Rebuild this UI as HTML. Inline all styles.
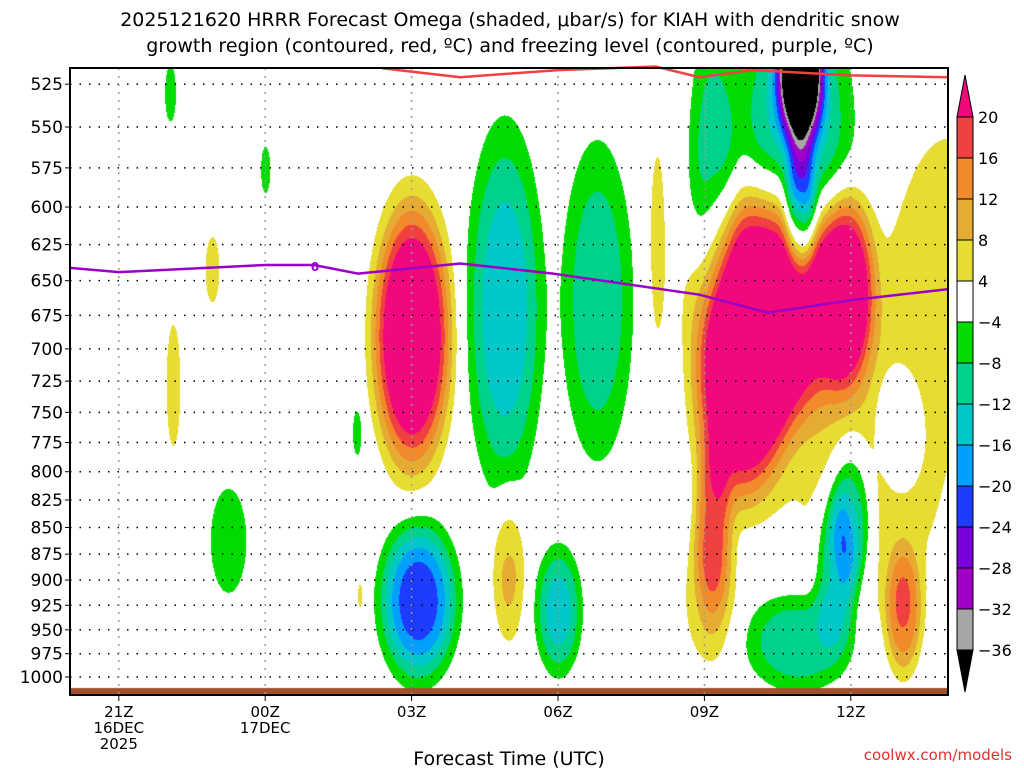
<!DOCTYPE html>
<html><head><meta charset="utf-8"><style>
body{margin:0;background:#fff;width:1024px;height:768px;overflow:hidden;font-family:"DejaVu Sans","Liberation Sans",sans-serif}
#wrap{position:relative;width:1024px;height:768px}
canvas{position:absolute;left:0;top:0}
svg{position:absolute;left:0;top:0}
</style></head><body><div id="wrap">
<canvas id="cv" width="1024" height="768"></canvas>
<svg id="sv" width="1024" height="768"></svg>
</div>
<script>
// ---- data ----
const levels=[525,550,575,600,625,650,675,700,725,750,775,800,825,850,875,900,925,950,975,1000];
const timeTicksH=[1,4,7,10,13,16];
const timeTickLabels=[["21Z","16DEC","2025"],["00Z","17DEC"],["03Z"],["06Z"],["09Z"],["12Z"]];
// omega features: hour since 20Z, pressure hPa, amplitude (microbar/s), width (h), height (px)
const featHour=[7.0, 7.13,8.9, 10.8,10.0,8.98,14.34,15.88,13.73,13.16,16.4,13.1,14.96,14.86,13.15,12.03,18.0,16.0,15.68,14.96,17.0,17.07,2.05,4.0, 2.91,2.11,3.24,5.88,5.94,14.96];
const featP=   [690, 920, 670, 664, 930, 890, 664,  655,  740,  852,  781, 920, 517,  552,  576,  622,  629, 843, 885,  961,  760, 930,  530, 576, 642, 728, 862, 766, 915, 600];
const featAmp= [32,  -23, -15, -11, -14, 9,   35,   25,   26,   14,   6,   6,   -45,  -14,  -10,  6,    6,   -15, -13,  -12,  -10, 14,   -6,  -6,  6,   6,   -7,  -6,  5,   -18];
const featSx=  [0.6, 0.6, 0.6, 0.58,0.37,0.28,1.1,  0.45, 0.7,  0.3,  1.6, 0.5, 0.35, 0.9,  0.4,  0.15, 1.0, 0.35,0.35, 0.9,  0.35,0.29, 0.12,0.1, 0.15,0.15,0.35,0.1, 0.07,0.25];
const featSy=  [100, 60,  140, 127, 50,  60,  90,   75,   80,   70,   150, 60,  55,   110,  120,  90,   120, 60,  60,   40,   45,  50,   30,  25,  35,  65,  50,  25,  18,  55];
const colorLevels=[-36,-32,-28,-24,-20,-16,-12,-8,-4,4,8,12,16,20];
const colors=["#000000","#a6a6a6","#a000c8","#7800dc","#1e3cff","#00a0ff","#00c8c8","#00d28c","#00dc00","#ffffff","#e6dc32","#e6ab32","#f08a2a","#f04040","#f0087c"];
const fzHour=[0,1,4,5,5.9,8,9.9,12.9,14.3,16,18];
const fzP=[641,644,639,639,645,638,645,660,673,664,656];
const dgHour=[6.4,8,10,12,12.9,14,16,18];
const dgP=[516,521,517,515,521,517,520,521];
const cbLabels=[20,16,12,8,4,-4,-8,-12,-16,-20,-24,-28,-32,-36];
// ---- axes ----
const X0=70,X1=948,Y0=68,Y1=695;
const xOf=h=>X0+h*48.8;
const yOf=p=>677+920*Math.log(p/1000);
// ---- shading ----
const cv=document.getElementById('cv'),ctx=cv.getContext('2d');
const W=X1-X0,H=Y1-Y0,img=ctx.createImageData(W,H);
const rgb=colors.map(c=>[parseInt(c.substr(1,2),16),parseInt(c.substr(3,2),16),parseInt(c.substr(5,2),16)]);
const fx=featHour.map(xOf),fy=featP.map(yOf);
for(let j=0;j<H;j++){for(let i=0;i<W;i++){
 const x=X0+i,y=Y0+j;let v=0;
 for(let k=0;k<fx.length;k++){const dx=(x-fx[k])/(featSx[k]*48.8),dy=(y-fy[k])/featSy[k];const r=Math.sqrt(dx*dx+dy*dy);if(r<4)v+=featAmp[k]*Math.exp(-0.5*r*r*r);}
 let c=0;while(c<colorLevels.length&&v>colorLevels[c])c++;
 const o=(j*W+i)*4;img.data[o]=rgb[c][0];img.data[o+1]=rgb[c][1];img.data[o+2]=rgb[c][2];img.data[o+3]=255;}}
ctx.putImageData(img,X0,Y0);
ctx.fillStyle="#a0522d";ctx.fillRect(X0,688,W,7);
// ---- svg overlay ----
const sv=document.getElementById('sv');const NS="http://www.w3.org/2000/svg";
function el(t,a,txt){const e=document.createElementNS(NS,t);for(const k in a)e.setAttribute(k,a[k]);if(txt!==undefined)e.textContent=txt;sv.appendChild(e);return e;}
levels.forEach(p=>{const y=yOf(p);
 let g=el('line',{x1:X0,x2:X1,y1:y,y2:y,stroke:"#000","stroke-width":1.5,"stroke-dasharray":"1.5,8"});
 
 el('line',{x1:X0-5,x2:X0,y1:y,y2:y,stroke:"#000"});
 let t=el('text',{x:X0-7,y:y+6,"text-anchor":"end","font-size":17,fill:"#000"},String(p));
 });
timeTicksH.forEach((h,i)=>{const x=xOf(h);
 let g=el('line',{x1:x,x2:x,y1:Y0,y2:Y1,stroke:"#999","stroke-width":1.5,"stroke-dasharray":"2,6"});
 
 el('line',{x1:x,x2:x,y1:Y1,y2:Y1+6,stroke:"#000"});
 timeTickLabels[i].forEach((s,k)=>{let t=el('text',{x:x,y:Y1+22+k*16,"text-anchor":"middle","font-size":15,fill:"#000"},s);
 });});
function line(hs,ps,col,name){const d=hs.map((h,i)=>(i?'L':'M')+xOf(h).toFixed(1)+','+yOf(ps[i]).toFixed(1)).join(' ');
 const e=el('path',{d:d,fill:"none",stroke:col,"stroke-width":2.5});}
line(fzHour,fzP,"#9a00c8","freezing-level-line");
line(dgHour,dgP,"#f04040","dendritic-growth-line");
let zl=el('text',{x:315,y:271,"text-anchor":"middle","font-size":12,fill:"#9a00c8","font-weight":"bold"},"0");

let fr=el('rect',{x:X0,y:Y0,width:W,height:Y1-Y0,fill:"none",stroke:"#000","stroke-width":2});

// colorbar: 13 boxes between 14 boundaries
const cbX=957,cbW=16,cbTop=117,step=(650-117)/13;
for(let i=0;i<13;i++){const r=el('rect',{x:cbX,y:cbTop+i*step,width:cbW,height:step,fill:colors[13-i],stroke:"#000","stroke-width":1});
 }
let ta=el('polygon',{points:`${cbX},${cbTop} ${cbX+cbW},${cbTop} ${cbX+cbW/2},${cbTop-42}`,fill:colors[14],stroke:"#000"});

let ba=el('polygon',{points:`${cbX},${cbTop+13*step} ${cbX+cbW},${cbTop+13*step} ${cbX+cbW/2},${cbTop+13*step+42}`,fill:colors[0],stroke:"#000"});

cbLabels.forEach((v,i)=>{let t=el('text',{x:978,y:cbTop+i*step+6,"font-size":16,fill:"#000"},v<0?'\u2212'+(-v):String(v));
 });
let t1=el('text',{x:510,y:26,"text-anchor":"middle","font-size":19,fill:"#000"},"2025121620 HRRR Forecast Omega (shaded, \u03bcbar/s) for KIAH with dendritic snow");

let t2=el('text',{x:510,y:52,"text-anchor":"middle","font-size":19,fill:"#000"},"growth region (contoured, red, \u00baC) and freezing level (contoured, purple, \u00baC)");

let xt=el('text',{x:509,y:765,"text-anchor":"middle","font-size":19,fill:"#000"},"Forecast Time (UTC)");

let cr=el('text',{x:1012,y:760,"text-anchor":"end","font-size":15,fill:"#e03030"},"coolwx.com/models");

</script></body></html>
